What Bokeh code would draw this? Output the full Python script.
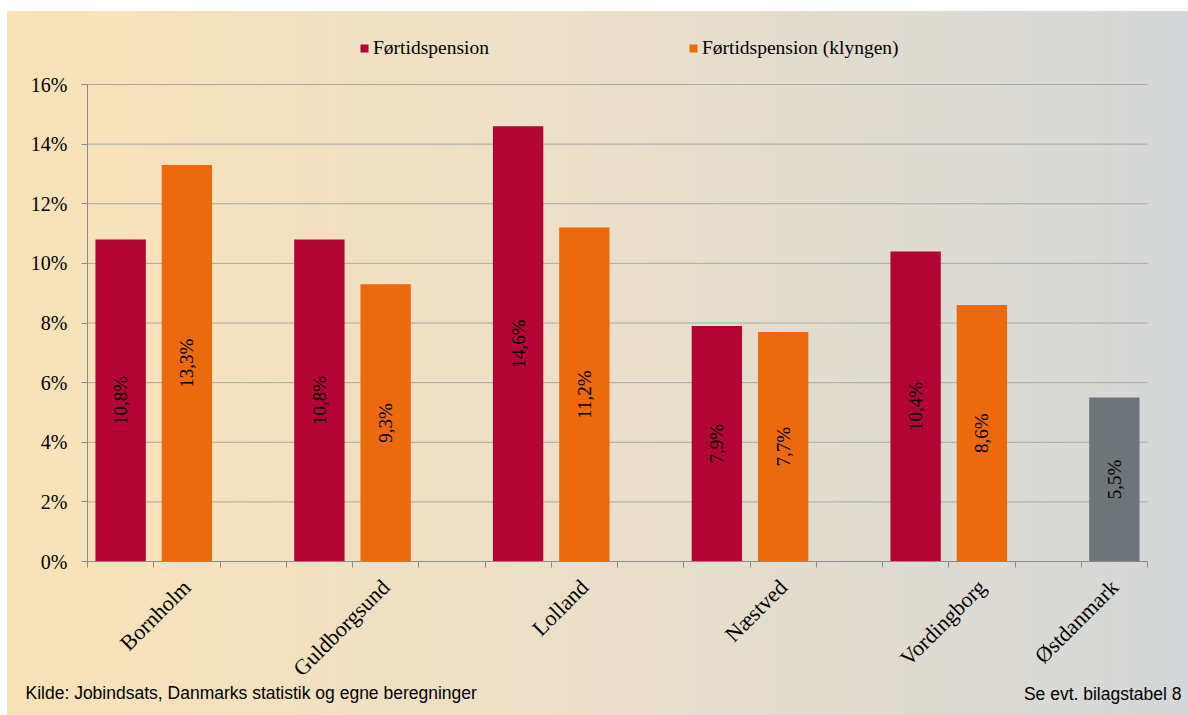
from math import pi
from bokeh.plotting import figure
from bokeh.models import ColumnDataSource, FixedTicker, Legend, LegendItem, Label, Range1d
from bokeh.embed import file_html
from bokeh.resources import INLINE
from bokeh.core.properties import value

# ---- data ----
categories = ["Bornholm", "Guldborgsund", "Lolland", "Næstved", "Vordingborg", "Østdanmark"]
fortid = [10.8, 10.8, 14.6, 7.9, 10.4, 5.5]
klyngen = [13.3, 9.3, 11.2, 7.7, 8.6, None]
series_names = ["Førtidspension", "Førtidspension (klyngen)"]
y_ticks = [0, 2, 4, 6, 8, 10, 12, 14, 16]
footer_left = "Kilde: Jobindsats, Danmarks statistik og egne beregninger"
footer_right = "Se evt. bilagstabel 8"

# ---- styling / layout ----
RED = "#B20535"
ORANGE = "#EA6A0D"
GREY = "#6E7578"
AXIS = "#8A8A8A"
GRID = "#A8A8A4"
SERIF = "Liberation Serif"
GRAD = "linear-gradient(to right, #F9E2B7 0%, #EDE0C8 45%, #D4D7D8 100%)"
WHITE = "linear-gradient(#fff,#fff)"

W_PX, H_PX = 1188, 715
PLOT_L, PLOT_R, PLOT_T, PLOT_B = 87, 1147, 84, 561   # plot area in page pixels

def fmt(v):
    return f"{v:.1f}".replace(".", ",") + "%"

# slot layout: each group takes 3 slots (bar, bar, gap); last group single bar
n_slots = 16
y_max = y_ticks[-1]
red_x, red_v, grey_x, grey_v, org_x, org_v, lab_pos = [], [], [], [], [], [], []
for i, (c, a, b) in enumerate(zip(categories, fortid, klyngen)):
    base = 3 * i
    if b is None:
        grey_x.append(base + 0.5); grey_v.append(a)
        lab_pos.append(base + 0.5)
    else:
        red_x.append(base + 0.5); red_v.append(a)
        org_x.append(base + 1.5); org_v.append(b)
        lab_pos.append(base + 1.5)

red_src = ColumnDataSource(dict(x=red_x, top=red_v, ly=[v / 2 for v in red_v], lab=[fmt(v) for v in red_v]))
org_src = ColumnDataSource(dict(x=org_x, top=org_v, ly=[v / 2 for v in org_v], lab=[fmt(v) for v in org_v]))
grey_src = ColumnDataSource(dict(x=grey_x, top=grey_v, ly=[v / 2 for v in grey_v], lab=[fmt(v) for v in grey_v]))

# ranges so that the data area lands on the plot area while the frame fills the canvas
sx = (PLOT_R - PLOT_L) / n_slots
sy = (PLOT_B - PLOT_T) / y_max
x_range = Range1d(-PLOT_L / sx, n_slots + (W_PX - PLOT_R) / sx)
y_range = Range1d(-(H_PX - PLOT_B) / sy, y_max + PLOT_T / sy)

p = figure(width=W_PX, height=H_PX, output_backend="svg", toolbar_location=None,
           x_range=x_range, y_range=y_range, min_border=0)
p.styles = {"background": f"{WHITE} 0 0 / 100% 11px no-repeat, {WHITE} 0 0 / 7px 100% no-repeat, {GRAD}"}
p.border_fill_color = None
p.background_fill_color = None
p.outline_line_color = None
p.grid.visible = False

# horizontal gridlines across the plot area
p.segment(x0=[0] * len(y_ticks[1:]), x1=[n_slots] * len(y_ticks[1:]), y0=y_ticks[1:], y1=y_ticks[1:],
          line_color=GRID, line_width=1)

W = 0.76
r_red = p.vbar(x="x", top="top", width=W, source=red_src, fill_color=RED, line_color=None)
r_org = p.vbar(x="x", top="top", width=W, source=org_src, fill_color=ORANGE, line_color=None)
r_grey = p.vbar(x="x", top="top", width=W, source=grey_src, fill_color=GREY, line_color=None)

for src in (red_src, org_src, grey_src):
    p.text(x="x", y="ly", text="lab", source=src, angle=pi / 2, text_align="center",
           text_baseline="middle", text_font=value(SERIF), text_font_size="19px", text_color="black")

# y axis
ya = p.yaxis[0]
ya.fixed_location = 0
ya.bounds = (0, y_max)
ya.ticker = FixedTicker(ticks=y_ticks)
ya.major_label_overrides = {t: f"{t}%" for t in y_ticks}
ya.axis_line_color = AXIS
ya.major_tick_line_color = AXIS
ya.major_tick_out = 6
ya.major_tick_in = 0
ya.minor_tick_line_color = None
ya.major_label_text_font = SERIF
ya.major_label_text_font_size = "20px"
ya.major_label_text_color = "black"
ya.major_label_standoff = 14

# x axis
xa = p.xaxis[0]
xa.fixed_location = 0
xa.bounds = (0, n_slots)
xa.ticker = FixedTicker(ticks=lab_pos, minor_ticks=list(range(n_slots + 1)))
xa.major_label_overrides = {pos: c for pos, c in zip(lab_pos, categories)}
xa.major_label_orientation = pi / 4
xa.axis_line_color = AXIS
xa.major_tick_line_color = None
xa.major_tick_out = 6
xa.minor_tick_line_color = AXIS
xa.minor_tick_out = 6
xa.minor_tick_in = 0
xa.major_label_text_font = SERIF
xa.major_label_text_font_size = "22px"
xa.major_label_text_color = "black"
xa.major_label_standoff = 16

legend = Legend(items=[LegendItem(label=series_names[0], renderers=[r_red]),
                       LegendItem(label=series_names[1], renderers=[r_org])],
                orientation="horizontal", location=(359, H_PX - 59), spacing=199,
                glyph_width=10, glyph_height=10, label_standoff=4,
                label_text_font=SERIF, label_text_font_size="19.5px", label_text_color="black",
                label_height=20, padding=0, margin=0,
                background_fill_alpha=0, border_line_color=None)
p.add_layout(legend, "center")

p.add_layout(Label(x=25, y=23, x_units="screen", y_units="screen", text=footer_left,
                   text_baseline="middle",
                   text_font="Liberation Sans", text_font_size="17.5px", text_color="black"))
p.add_layout(Label(x=1181, y=22, x_units="screen", y_units="screen", text=footer_right,
                   text_align="right", text_baseline="middle",
                   text_font="Liberation Sans", text_font_size="17.5px", text_color="black"))

open("out.html", "w").write(file_html(p, INLINE))
